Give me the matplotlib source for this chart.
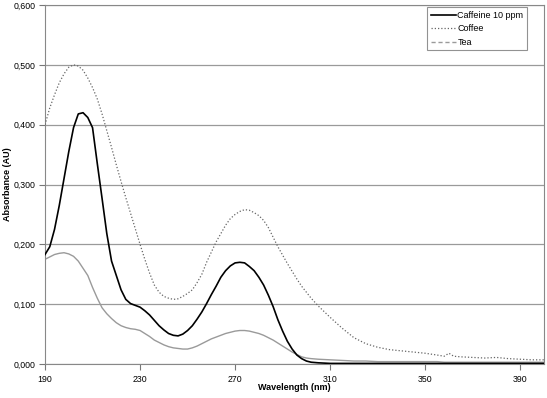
"""
UV absorbance spectra of caffeine standard, coffee and tea.
"""

import matplotlib
matplotlib.use('Agg')
import matplotlib.pyplot as plt
from matplotlib.lines import Line2D
from matplotlib.ticker import FuncFormatter, MultipleLocator

plt.rcParams['font.family'] = ['Liberation Sans', 'DejaVu Sans']

wavelength = [
	190, 192, 194, 196, 198, 200, 202, 204, 206, 208,
	210, 212, 214, 216, 218, 220, 222, 224, 226, 228,
	230, 232, 234, 236, 238, 240, 242, 244, 246, 248,
	250, 252, 254, 256, 258, 260, 262, 264, 266, 268,
	270, 272, 274, 276, 278, 280, 282, 284, 286, 288,
	290, 292, 294, 296, 298, 300, 302, 305, 310, 315,
	320, 325, 330, 335, 340, 345, 350, 355, 358, 360,
	362, 365, 370, 375, 380, 385, 390, 395, 400,
]

caffeine = [
	0.183, 0.196, 0.225, 0.265, 0.310, 0.355, 0.395, 0.418, 0.420, 0.412,
	0.395, 0.335, 0.277, 0.218, 0.172, 0.148, 0.124, 0.108, 0.101, 0.098,
	0.095, 0.089, 0.082, 0.073, 0.064, 0.057, 0.051, 0.048, 0.047, 0.050,
	0.056, 0.064, 0.075, 0.087, 0.101, 0.116, 0.130, 0.145, 0.156, 0.164,
	0.169, 0.170, 0.169, 0.163, 0.156, 0.145, 0.132, 0.115, 0.096, 0.074,
	0.055, 0.038, 0.025, 0.015, 0.009, 0.005, 0.003, 0.002, 0.001, 0.001,
	0.001, 0.001, 0.001, 0.001, 0.001, 0.001, 0.001, 0.001, 0.001, 0.001,
	0.001, 0.001, 0.001, 0.001, 0.001, 0.001, 0.001, 0.001, 0.001,
]

coffee = [
	0.400, 0.428, 0.450, 0.470, 0.485, 0.496, 0.500, 0.498, 0.491, 0.478,
	0.462, 0.443, 0.418, 0.390, 0.362, 0.333, 0.305, 0.278, 0.252, 0.226,
	0.200, 0.175, 0.152, 0.132, 0.120, 0.113, 0.110, 0.108, 0.109, 0.113,
	0.118, 0.124, 0.136, 0.150, 0.170, 0.187, 0.204, 0.218, 0.232, 0.243,
	0.250, 0.255, 0.258, 0.257, 0.253, 0.248, 0.240, 0.228, 0.212, 0.196,
	0.182, 0.168, 0.155, 0.142, 0.130, 0.120, 0.110, 0.097, 0.078, 0.060,
	0.044, 0.034, 0.028, 0.024, 0.022, 0.020, 0.018, 0.015, 0.013, 0.018,
	0.013, 0.012, 0.011, 0.010, 0.011, 0.009, 0.008, 0.007, 0.007,
]

tea = [
	0.175, 0.179, 0.183, 0.185, 0.186, 0.184, 0.180, 0.172, 0.160, 0.148,
	0.128, 0.110, 0.094, 0.084, 0.076, 0.069, 0.064, 0.061, 0.059, 0.058,
	0.056, 0.051, 0.046, 0.040, 0.036, 0.032, 0.029, 0.027, 0.026, 0.025,
	0.025, 0.027, 0.030, 0.034, 0.038, 0.042, 0.045, 0.048, 0.051, 0.053,
	0.055, 0.056, 0.056, 0.055, 0.053, 0.051, 0.048, 0.044, 0.040, 0.035,
	0.030, 0.025, 0.020, 0.016, 0.012, 0.010, 0.009, 0.008, 0.007, 0.006,
	0.005, 0.005, 0.004, 0.004, 0.004, 0.004, 0.004, 0.004, 0.003, 0.003,
	0.003, 0.003, 0.003, 0.003, 0.003, 0.003, 0.003, 0.003, 0.003,
]

series_labels = ['Caffeine 10 ppm', 'Coffee', 'Tea']
x_ticks = [190, 230, 270, 310, 350, 390]


def comma_decimal(value, pos):
	"""Format tick value with a comma as decimal separator."""
	return f'{value:.3f}'.replace('.', ',')


def create_plot(output_path: str) -> None:
	fig = plt.figure(figsize=(5.47, 3.98), dpi=100)
	ax = fig.add_axes([0.0823, 0.0854, 0.9122, 0.902])

	# Spectra
	ax.plot(wavelength, caffeine, color='black', linewidth=1.2, zorder=4)
	ax.plot(wavelength, coffee, color='#666666', linewidth=0.9,
		linestyle=(0, (1, 1.6)), zorder=3)
	ax.plot(wavelength, tea, color='#9a9a9a', linewidth=1.0, zorder=2)

	# Axes setup
	ax.set_xlim(190, 400)
	ax.set_ylim(0, 0.6)
	ax.set_xticks(x_ticks)
	ax.yaxis.set_major_locator(MultipleLocator(0.1))
	ax.yaxis.set_major_formatter(FuncFormatter(comma_decimal))
	ax.tick_params(axis='both', labelsize=6.3, length=4, width=0.8,
		color='#777777')
	ax.tick_params(axis='y', pad=3)
	ax.tick_params(axis='x', pad=4)
	ax.grid(axis='y', color='#9a9a9a', linewidth=0.9)
	ax.set_axisbelow(True)
	for side in ['left', 'bottom', 'top', 'right']:
		ax.spines[side].set_color('#888888')
		ax.spines[side].set_linewidth(0.8)

	# Axis titles placed in figure pixels (as in the original layout)
	fig.text(294 / 547, 1 - 388 / 398, 'Wavelength (nm)', fontsize=6.5,
		fontweight='bold', ha='center', va='center')
	fig.text(8 / 547, 1 - 184 / 398, 'Absorbance (AU)', fontsize=6.5,
		fontweight='bold', ha='center', va='center', rotation=90)

	# Legend (tea shown dashed as in the original)
	handles = [
		Line2D([], [], color='black', linewidth=1.2),
		Line2D([], [], color='#666666', linewidth=0.9, linestyle=(0, (1, 1.6))),
		Line2D([], [], color='#9a9a9a', linewidth=1.0, linestyle=(0, (3, 2))),
	]
	leg = ax.legend(handles, series_labels, loc='upper right',
		bbox_to_anchor=(0.966, 0.994), fontsize=6.5, frameon=True,
		fancybox=False, handlelength=2.8, handletextpad=0.15,
		borderpad=0.4, borderaxespad=0, labelspacing=0.5)
	leg.get_frame().set_edgecolor('#777777')
	leg.get_frame().set_linewidth(0.8)

	fig.savefig(output_path, dpi=100)
	plt.close(fig)


if __name__ == '__main__':
	create_plot('out.png')
